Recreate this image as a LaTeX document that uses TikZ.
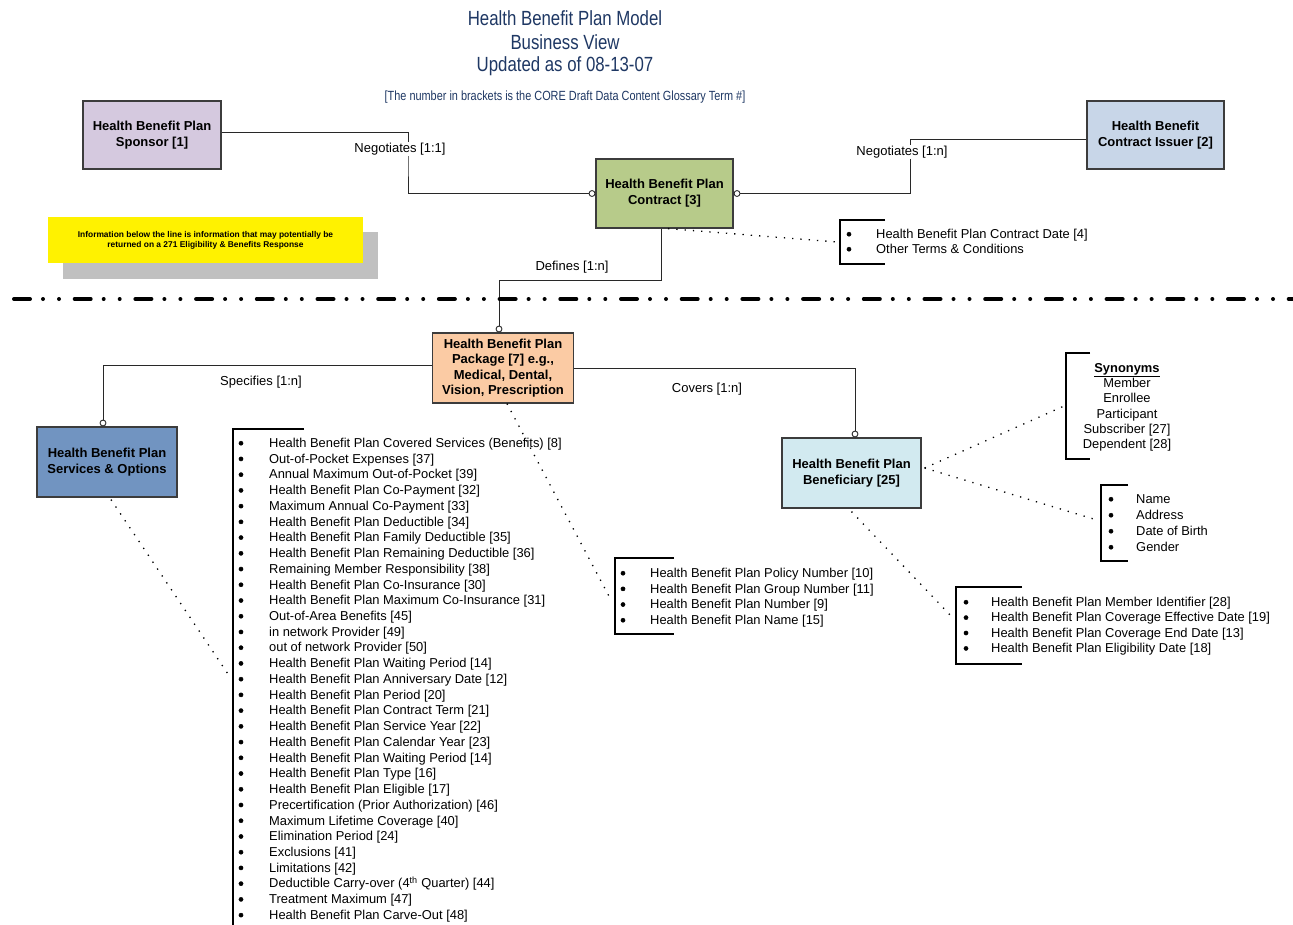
\documentclass[tikz,border=0pt]{standalone}
\usepackage{fontspec}
\setmainfont{Liberation Sans}
\newfontfamily\condfont[FakeStretch=0.82]{Liberation Sans}
\usetikzlibrary{arrows.meta}
\definecolor{titleblue}{RGB}{31,56,100}
\definecolor{boxgray}{RGB}{60,60,60}
\definecolor{linegray}{RGB}{40,40,40}
\definecolor{sponsorc}{RGB}{213,201,223}
\definecolor{issuerc}{RGB}{200,214,232}
\definecolor{contractc}{RGB}{183,203,138}
\definecolor{packc}{RGB}{251,203,164}
\definecolor{servc}{RGB}{113,148,193}
\definecolor{benc}{RGB}{210,234,240}
\definecolor{shadowgray}{RGB}{192,192,192}
\tikzset{
  ent/.style={draw=boxgray, line width=1.2pt, align=center, inner sep=2pt,
    font=\fontsize{13}{16}\selectfont\bfseries},
  conn/.style={draw=linegray, line width=1pt},
  ocirc/.style={-{Circle[open, length=6.8pt, width=6.8pt, line width=0.9pt, fill=white]}},
  ocircs/.style={{Circle[open, length=6.8pt, width=6.8pt, line width=0.9pt, fill=white]}-},
  lbl/.style={fill=white, inner sep=1pt, font=\fontsize{13}{15}\selectfont},
  dots/.style={line width=1.3pt, dash pattern=on 1.3pt off 7pt},
  brk/.style={line width=2pt},
  itm/.style={anchor=base west, inner sep=0pt, font=\fontsize{12.9}{15}\selectfont},
  bul/.style={circle, fill=black, draw=black, line width=0.4pt, inner sep=0pt, minimum size=4.2pt},
  syn/.style={anchor=base, inner sep=0pt, font=\fontsize{12.9}{15}\selectfont},
  ttl/.style={text=titleblue, inner sep=0pt, font=\condfont\fontsize{20.5}{24}\selectfont},
}
\begin{document}
\begin{tikzpicture}[x=1pt,y=-1pt]
\useasboundingbox[fill=white] (0,0) rectangle (1293,924);

% titles
\node[ttl] (t1) at (565,18) {Health Benefit Plan Model};
\node[ttl] (t2) at (565,42) {Business View};
\node[ttl] (t3) at (565,66) {Updated as of 08-13-07};
\node[ttl, font=\condfont\fontsize{13.3}{15}\selectfont] (t4) at (565,97) {[The number in brackets is the CORE Draft Data Content Glossary Term \#]};

% entity boxes
\node[ent, fill=sponsorc, minimum width=138pt, minimum height=68pt] (sponsor) at (152,135) {Health Benefit Plan\\Sponsor [1]};
\node[ent, fill=issuerc, minimum width=137pt, minimum height=68pt] (issuer) at (1155.5,135) {Health Benefit\\Contract Issuer [2]};
\node[ent, fill=contractc, minimum width=137pt, minimum height=69pt] (contract) at (664.5,193.5) {Health Benefit Plan\\Contract [3]};
\node[ent, fill=packc, minimum width=141pt, minimum height=70pt, font=\fontsize{13}{15.4}\selectfont\bfseries] (package) at (503,368) {Health Benefit Plan\\Package [7] e.g.,\\Medical, Dental,\\Vision, Prescription};
\node[ent, fill=servc, minimum width=140pt, minimum height=70pt] (services) at (107,462) {Health Benefit Plan\\Services \& Options};
\node[ent, fill=benc, minimum width=139pt, minimum height=70pt] (beneficiary) at (851.5,473) {Health Benefit Plan\\Beneficiary [25]};

% connectors
\coordinate (k1) at (408,160);
\coordinate (k2) at (910,165);
\draw[conn, ocirc] ([yshift=3pt]sponsor.east) -| (k1) |- (contract.west);
\draw[conn, ocircs] (contract.east) -| (k2) |- ([yshift=-4pt]issuer.west);
\draw[conn, ocirc] ([xshift=-3.5pt]contract.south) -- ++(0,52) -| ([xshift=-4pt]package.north);
\draw[conn, ocirc] ([yshift=3pt]package.west) -| ([xshift=-4pt]services.north);
\draw[conn, ocirc] (package.east) -| ([xshift=3.5pt]beneficiary.north);

\node[lbl] (lneg1) at (400,149) {Negotiates [1:1]};
\node[lbl] (lneg2) at (902,152) {Negotiates [1:n]};
\node[lbl] (ldef) at (572,267) {Defines [1:n]};
\node[lbl] (lspec) at (261,382) {Specifies [1:n]};
\node[lbl] (lcov) at (707,389) {Covers [1:n]};

% note
\fill[shadowgray] (63,232) rectangle (378,279);
\node[fill=yellow, minimum width=315pt, minimum height=46pt, inner sep=0pt, align=center,
  font=\fontsize{8.4}{10}\selectfont\bfseries] (note) at (205.5,240)
  {Information below the line is information that may potentially be\\returned on a 271 Eligibility \& Benefits Response};

% separator
\draw[line width=4pt, line cap=round, dash pattern=on 16pt off 13pt on 0pt off 16pt on 0pt off 15.7pt] (14,299) -- (1300,299);

% brackets
\draw[brk] (885,220) -- (840,220) -- (840,264) -- (885,264);
\coordinate (cb1) at (837,242);
\draw[brk] (1090,353) -- (1066,353) -- (1066,459) -- (1090,459);
\coordinate (cb2) at (1064,406);
\draw[brk] (1128,485) -- (1101,485) -- (1101,561) -- (1128,561);
\coordinate (cb3) at (1097,520);
\draw[brk] (1022,587) -- (956,587) -- (956,664) -- (1022,664);
\coordinate (cb4) at (952,617);
\draw[brk] (674,558) -- (615,558) -- (615,634) -- (674,634);
\coordinate (cb5) at (611,600);
\draw[brk] (304,429) -- (233,429) -- (233,926);
\coordinate (cb6) at (230,677);

% dotted dependencies
\draw[dots] ([xshift=3.5pt]contract.south) -- (cb1);
\draw[dots] ([xshift=4pt]package.south) -- (cb5);
\draw[dots] ([xshift=4pt,yshift=-2pt]services.south) -- (cb6);
\draw[dots] ([xshift=3pt,yshift=5pt]beneficiary.east) -- (cb2);
\draw[dots] ([xshift=3pt,yshift=5pt]beneficiary.east) -- (cb3);
\draw[dots] ([yshift=-3pt]beneficiary.south) -- (cb4);

% contract list
\foreach \t [count=\i] in {{Health Benefit Plan Contract Date [4]},{Other Terms \& Conditions}}
  {\node[bul] (cbu\i) at (849,234.2+15*\i-15) {};
   \node[itm] (cl\i) at (876,238.5+15*\i-15) {\t};}

% synonyms
\node[syn, font=\fontsize{12.9}{15}\selectfont\bfseries] (syn0) at (1127,372.5) {\underline{Synonyms}};
\foreach \t [count=\i] in {Member,Enrollee,Participant,{Subscriber [27]},{Dependent [28]}}
  {\node[syn] (syn\i) at (1127,372.5+15.2*\i) {\t};}

% name list
\foreach \t [count=\i] in {Name,Address,{Date of Birth},Gender}
  {\node[bul] (nbu\i) at (1111,499.2+16*\i-16) {};
   \node[itm] (nl\i) at (1136,503.5+16*\i-16) {\t};}

% member list
\foreach \t [count=\i] in {{Health Benefit Plan Member Identifier [28]},{Health Benefit Plan Coverage Effective Date [19]},{Health Benefit Plan Coverage End Date [13]},{Health Benefit Plan Eligibility Date [18]}}
  {\node[bul] (mbu\i) at (966,602.2+15.4*\i-15.4) {};
   \node[itm] (ml\i) at (991,606.5+15.4*\i-15.4) {\t};}

% policy list
\foreach \t [count=\i] in {{Health Benefit Plan Policy Number [10]},{Health Benefit Plan Group Number [11]},{Health Benefit Plan Number [9]},{Health Benefit Plan Name [15]}}
  {\node[bul] (pbu\i) at (623,573.2+15.67*\i-15.67) {};
   \node[itm] (pl\i) at (650,577.5+15.67*\i-15.67) {\t};}

% big list
\foreach \t [count=\i] in {
  {Health Benefit Plan Covered Services (Benefits) [8]},
  {Out-of-Pocket Expenses [37]},
  {Annual Maximum Out-of-Pocket [39]},
  {Health Benefit Plan Co-Payment [32]},
  {Maximum Annual Co-Payment [33]},
  {Health Benefit Plan Deductible [34]},
  {Health Benefit Plan Family Deductible [35]},
  {Health Benefit Plan Remaining Deductible [36]},
  {Remaining Member Responsibility [38]},
  {Health Benefit Plan Co-Insurance [30]},
  {Health Benefit Plan Maximum Co-Insurance [31]},
  {Out-of-Area Benefits [45]},
  {in network Provider [49]},
  {out of network Provider [50]},
  {Health Benefit Plan Waiting Period [14]},
  {Health Benefit Plan Anniversary Date [12]},
  {Health Benefit Plan Period [20]},
  {Health Benefit Plan Contract Term [21]},
  {Health Benefit Plan Service Year [22]},
  {Health Benefit Plan Calendar Year [23]},
  {Health Benefit Plan Waiting Period [14]},
  {Health Benefit Plan Type [16]},
  {Health Benefit Plan Eligible [17]},
  {Precertification (Prior Authorization) [46]},
  {Maximum Lifetime Coverage [40]},
  {Elimination Period [24]},
  {Exclusions [41]},
  {Limitations [42]},
  {Deductible Carry-over (4\textsuperscript{th} Quarter) [44]},
  {Treatment Maximum [47]},
  {Health Benefit Plan Carve-Out [48]}}
  {\node[bul] (bbu\i) at (241,443.2+15.73*\i-15.73) {};
   \node[itm] (bl\i) at (269,447.5+15.73*\i-15.73) {\t};}
\end{tikzpicture}
\end{document}
